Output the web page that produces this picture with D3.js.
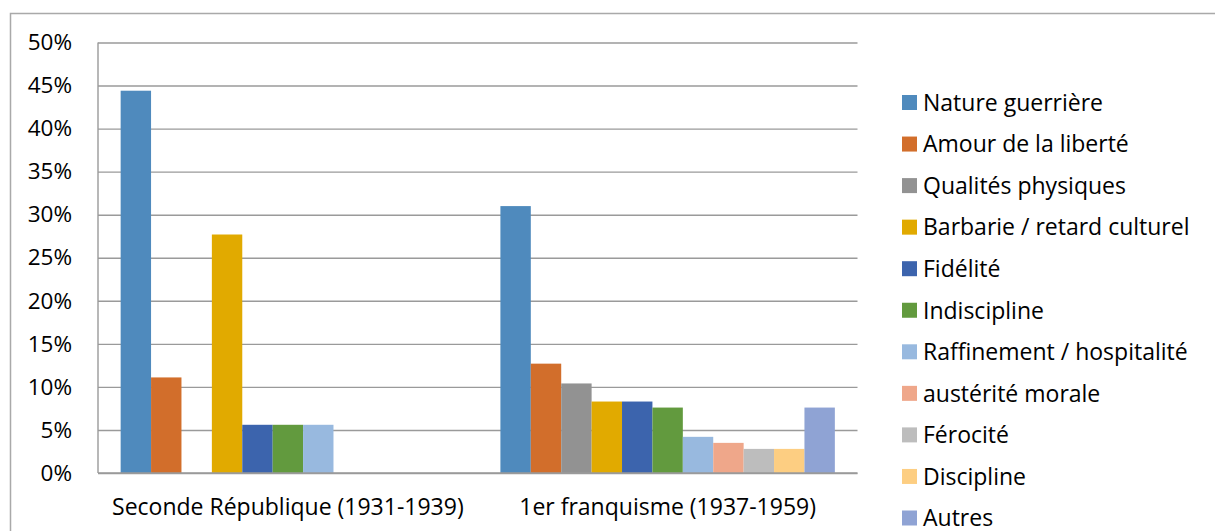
<!DOCTYPE html>
<html>
<head>
<meta charset="utf-8">
<script src="https://cdn.jsdelivr.net/npm/d3@7"></script>
<style>
  html, body { margin: 0; padding: 0; background: #fff; }
  svg { display: block; }
  text { font-family: "Open Sans", Lato, sans-serif; fill: #000; }
</style>
</head>
<body>
<svg id="chart" width="1215" height="531"></svg>
<script>
const categories = ["Seconde République (1931-1939)", "1er franquisme (1937-1959)"];
const seriesNames = ["Nature guerrière", "Amour de la liberté", "Qualités physiques",
  "Barbarie / retard culturel", "Fidélité", "Indiscipline", "Raffinement / hospitalité",
  "austérité morale", "Férocité", "Discipline", "Autres"];
const seriesColors = ["#4f8abd", "#d26e2b", "#929292", "#e1aa00", "#3c64ad", "#629a3e",
  "#98b9df", "#efa78a", "#bdbdbd", "#fdce82", "#8fa3d4"];
const valuesSeconde = [44.4, 11.1, 0, 27.7, 5.6, 5.6, 5.6, 0, 0, 0, 0];
const valuesFranquisme = [31.0, 12.7, 10.4, 8.3, 8.3, 7.6, 4.2, 3.5, 2.8, 2.8, 7.6];
const yTicks = [0, 5, 10, 15, 20, 25, 30, 35, 40, 45, 50];

const data = [valuesSeconde, valuesFranquisme];

const svg = d3.select("#chart");
const plot = { left: 98, right: 857.5, top: 42.5, bottom: 473 };
const FONT = 23;

// outer frame
svg.append("path")
  .attr("d", `M10.5,531 L10.5,13.5 L1215,13.5`)
  .attr("fill", "none").attr("stroke", "#a9a9a9").attr("stroke-width", 1.5);

const y = d3.scaleLinear().domain([0, 50]).range([plot.bottom, plot.top]);
const x0 = d3.scaleBand().domain(categories).range([plot.left, plot.right]).padding(0);
const x1 = d3.scaleBand().domain(seriesNames).range([0, x0.bandwidth()])
  .paddingInner(0).paddingOuter(0.745);

// gridlines
const yAxis = d3.axisLeft(y).tickValues(yTicks).tickSize(-(plot.right - plot.left))
  .tickFormat(d => d + "%").tickPadding(26);
const gy = svg.append("g").attr("transform", `translate(${plot.left},0)`).call(yAxis);
gy.select(".domain").remove();
gy.selectAll(".tick line").attr("stroke", "#9a9a9a").attr("stroke-width", 1.4);
gy.selectAll(".tick text").attr("font-size", 22.5).attr("font-family", "'Open Sans', sans-serif")
  .attr("fill", "#000");

// left axis line
svg.append("line").attr("x1", plot.left).attr("x2", plot.left)
  .attr("y1", plot.top).attr("y2", plot.bottom)
  .attr("stroke", "#9a9a9a").attr("stroke-width", 1.4);

// bars
const groups = svg.append("g").selectAll("g").data(categories).join("g")
  .attr("transform", d => `translate(${x0(d)},0)`);
groups.each(function(cat, ci) {
  d3.select(this).selectAll("rect")
    .data(seriesNames.map((s, si) => ({ s, si, v: data[ci][si] })).filter(d => d.v > 0))
    .join("rect")
    .attr("x", d => x1(d.s))
    .attr("width", x1.bandwidth())
    .attr("y", d => y(d.v))
    .attr("height", d => y(0) - y(d.v))
    .attr("fill", d => seriesColors[d.si]);
});

// baseline redraw
svg.append("line").attr("x1", plot.left).attr("x2", plot.right)
  .attr("y1", y(0)).attr("y2", y(0))
  .attr("stroke", "#9a9a9a").attr("stroke-width", 1.4);

// category labels
svg.append("g").selectAll("text").data(categories).join("text")
  .attr("x", d => x0(d) + x0.bandwidth() / 2)
  .attr("y", 515)
  .attr("text-anchor", "middle")
  .attr("font-size", FONT)
  .text(d => d);

// legend
const legendY = d3.scalePoint().domain(seriesNames).range([102.5, 518]);
const lg = svg.append("g").selectAll("g").data(seriesNames).join("g")
  .attr("transform", d => `translate(902,${legendY(d)})`);
lg.append("rect").attr("x", 0).attr("y", -7.5).attr("width", 15).attr("height", 15)
  .attr("fill", (d, i) => seriesColors[i]);
lg.append("text").attr("x", 21).attr("y", 0).attr("dy", "0.36em")
  .attr("font-size", FONT).text(d => d);
</script>
</body>
</html>
